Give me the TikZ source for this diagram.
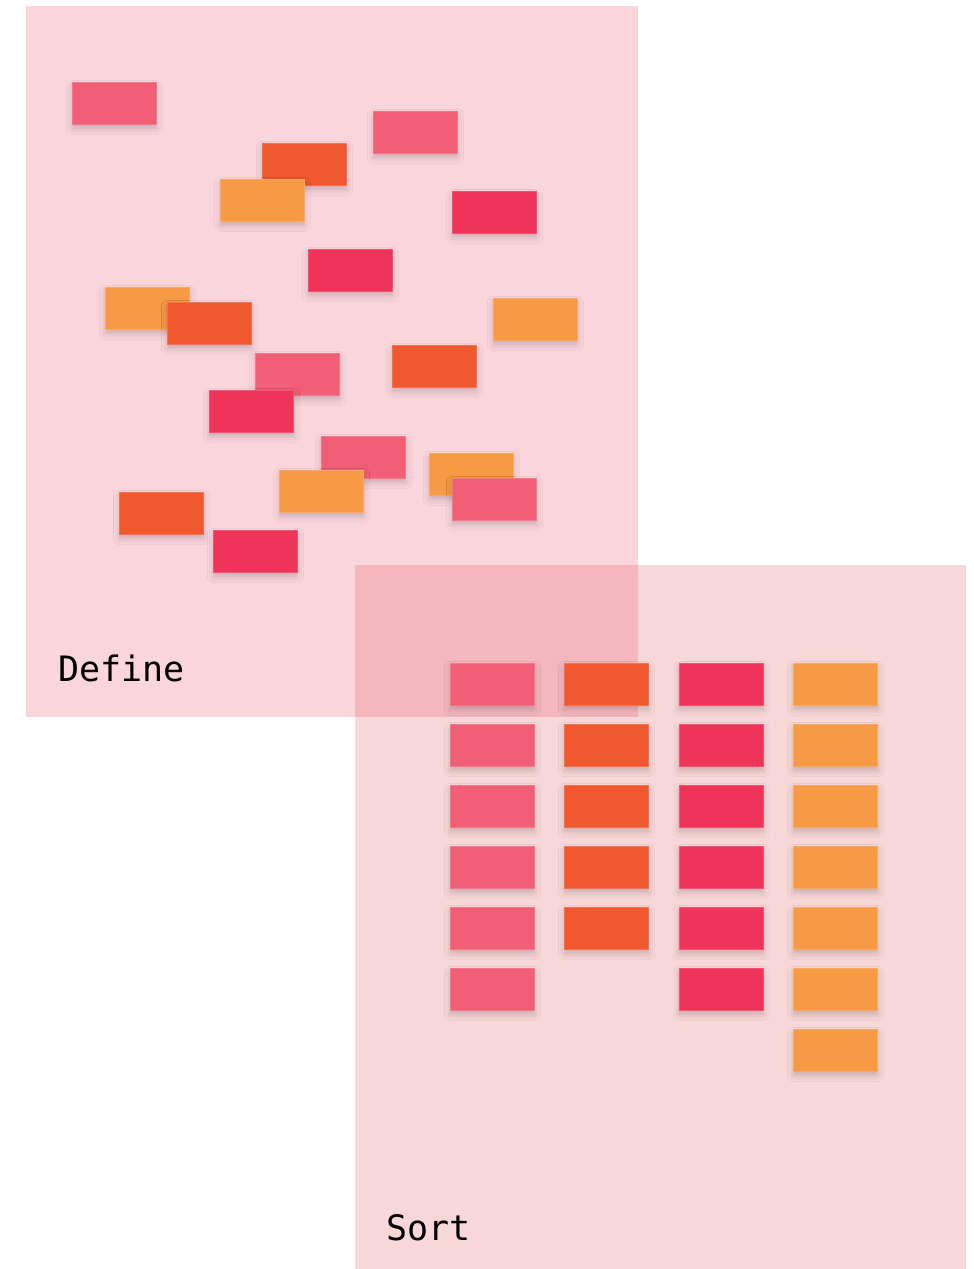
\documentclass[tikz,border=0pt]{standalone}
\usepackage{fontspec}
\newfontfamily\monofont{DejaVu Sans Mono}
\usetikzlibrary{shadows.blur}
\definecolor{cpink}{HTML}{F05F75}
\definecolor{corred}{HTML}{F0582F}
\definecolor{cred}{HTML}{EE3559}
\definecolor{corange}{HTML}{F79A45}
\definecolor{pdefine}{RGB}{236,88,116}
\definecolor{psort}{RGB}{227,95,99}
\tikzset{
  card/.style={rectangle, inner sep=0pt, minimum width=84pt, minimum height=42pt,
    fill=#1, draw=#1!85!white, line width=0.6pt,
    blur shadow={shadow xshift=0pt, shadow yshift=-4pt, shadow blur radius=6pt, shadow opacity=20}},
  panel/.style={rectangle, inner sep=0pt, fill=#1, fill opacity=0.25, draw=none},
  lbl/.style={anchor=base west, inner sep=0pt, font=\monofont\fontsize{35}{40}\selectfont, text=black}
}
\begin{document}
\begin{tikzpicture}[x=1pt,y=-1pt]
\useasboundingbox (0,0) rectangle (974,1269);
% panels
\node[panel=psort, minimum width=611pt, minimum height=704pt] (sortpanel) at (660.5,917) {};
\node[panel=pdefine, minimum width=612pt, minimum height=711pt] (definepanel) at (332,361.5) {};
% labels
\node[lbl] (definelbl) at (58,681) {Define};
\node[lbl] (sortlbl) at (386,1240) {Sort};
% define cards
\node[card=cpink] (d1) at (114.5,103.5) {};
\node[card=cpink] (d2) at (415.5,132.5) {};
\node[card=corred] (d3) at (304.5,164.5) {};
\node[card=corange] (d4) at (262.5,200.5) {};
\node[card=cred] (d5) at (494.5,212.5) {};
\node[card=cred] (d6) at (350.5,270.5) {};
\node[card=corange] (d7) at (147.5,308.5) {};
\node[card=corred] (d8) at (209.5,323.5) {};
\node[card=corange] (d9) at (535.5,319.5) {};
\node[card=cpink] (d10) at (297.5,374.5) {};
\node[card=corred] (d11) at (434.5,366.5) {};
\node[card=cred] (d12) at (251.5,411.5) {};
\node[card=cpink] (d13) at (363.5,457.5) {};
\node[card=corange] (d14) at (471.5,474.5) {};
\node[card=cpink] (d15) at (494.5,499.5) {};
\node[card=corange] (d16) at (321.5,491.5) {};
\node[card=corred] (d17) at (161.5,513.5) {};
\node[card=cred] (d18) at (255.5,551.5) {};
% sort cards
\foreach \r in {0,...,5} {\node[card=cpink] (sa\r) at (492.5,684.5+61*\r) {};}
\foreach \r in {0,...,4} {\node[card=corred] (sb\r) at (606.5,684.5+61*\r) {};}
\foreach \r in {0,...,5} {\node[card=cred] (sc\r) at (721,684.5+61*\r) {};}
\foreach \r in {0,...,6} {\node[card=corange] (sd\r) at (835.5,684.5+61*\r) {};}
\end{tikzpicture}
\end{document}
